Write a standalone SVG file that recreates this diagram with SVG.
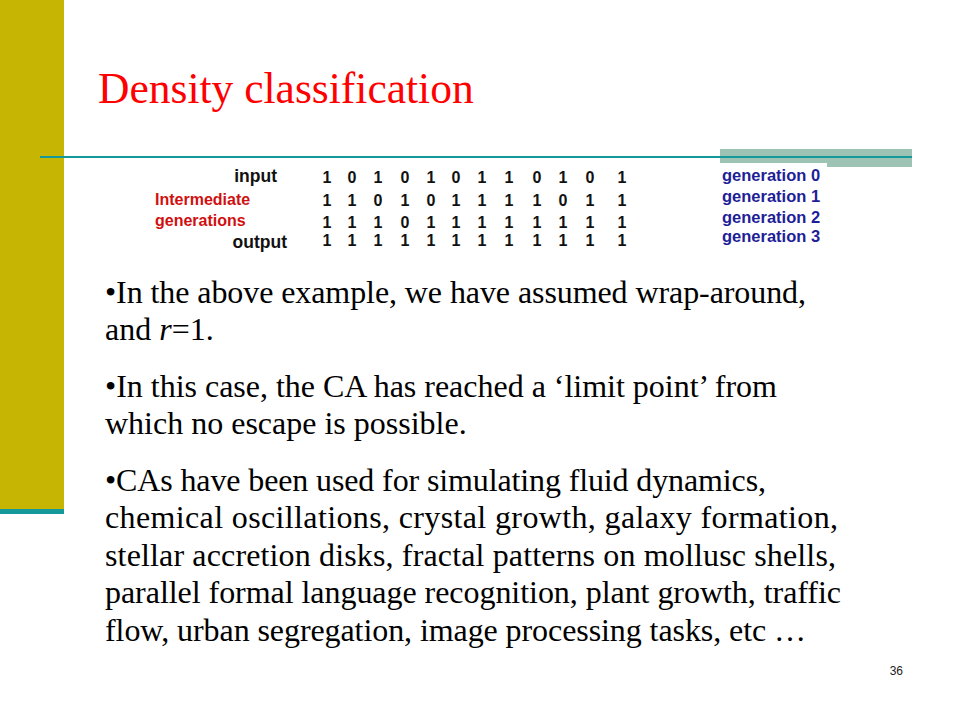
<svg xmlns="http://www.w3.org/2000/svg" width="960" height="720" viewBox="0 0 960 720">
<style>
.body{font-family:"Liberation Serif","Times New Roman",serif;font-size:32px;fill:#000}
.lbl{font-family:"Liberation Sans",Arial,sans-serif;font-weight:bold}
.dig{font-family:"Liberation Sans",Arial,sans-serif;font-weight:bold;font-size:16px;fill:#111;text-anchor:middle}
.gen{font-family:"Liberation Sans",Arial,sans-serif;font-weight:bold;font-size:16.5px;fill:#1E1E98}
</style>
<rect width="960" height="720" fill="#fff"/>
<g id="decor">
<rect x="0" y="0" width="64" height="509" fill="#C6B503"/>
<rect x="0" y="509" width="64" height="5" fill="#14999A"/>
<rect x="720" y="149" width="192" height="18" fill="#9DC3B5"/>
<rect x="40" y="156" width="872" height="2" fill="#14999A"/>
</g>
<g id="title">
<text x="98" y="103" font-family="Liberation Serif,'Times New Roman',serif" font-size="43.5" fill="#FF0000">Density classification</text>
</g>
<g id="table">
<rect x="140" y="163" width="687" height="97" fill="#fff"/>
<text class="lbl" x="277" y="182" font-size="17.5" text-anchor="end" fill="#111">input</text>
<text class="lbl" x="155" y="205" font-size="16" fill="#D01010">Intermediate</text>
<text class="lbl" x="155" y="226" font-size="16" fill="#D01010">generations</text>
<text class="lbl" x="287" y="248" font-size="17.5" text-anchor="end" fill="#111">output</text>
<g id="row0">
<text class="dig" y="183"><tspan x="327">1</tspan><tspan x="352">0</tspan><tspan x="378">1</tspan><tspan x="405">0</tspan><tspan x="431">1</tspan><tspan x="456">0</tspan><tspan x="482">1</tspan><tspan x="509">1</tspan><tspan x="537">0</tspan><tspan x="563">1</tspan><tspan x="590">0</tspan><tspan x="622">1</tspan></text>
</g>
<g id="row1">
<text class="dig" y="206"><tspan x="327">1</tspan><tspan x="352">1</tspan><tspan x="378">0</tspan><tspan x="405">1</tspan><tspan x="431">0</tspan><tspan x="456">1</tspan><tspan x="482">1</tspan><tspan x="509">1</tspan><tspan x="537">1</tspan><tspan x="563">0</tspan><tspan x="590">1</tspan><tspan x="622">1</tspan></text>
</g>
<g id="row2">
<text class="dig" y="228"><tspan x="327">1</tspan><tspan x="352">1</tspan><tspan x="378">1</tspan><tspan x="405">0</tspan><tspan x="431">1</tspan><tspan x="456">1</tspan><tspan x="482">1</tspan><tspan x="509">1</tspan><tspan x="537">1</tspan><tspan x="563">1</tspan><tspan x="590">1</tspan><tspan x="622">1</tspan></text>
</g>
<g id="row3">
<text class="dig" y="246"><tspan x="327">1</tspan><tspan x="352">1</tspan><tspan x="378">1</tspan><tspan x="405">1</tspan><tspan x="431">1</tspan><tspan x="456">1</tspan><tspan x="482">1</tspan><tspan x="509">1</tspan><tspan x="537">1</tspan><tspan x="563">1</tspan><tspan x="590">1</tspan><tspan x="622">1</tspan></text>
</g>
<text class="gen" x="722" y="181">generation 0</text>
<text class="gen" x="722" y="202">generation 1</text>
<text class="gen" x="722" y="223">generation 2</text>
<text class="gen" x="722" y="242">generation 3</text>
</g>
<g id="bullets">
<text class="body" x="105" y="303" textLength="701" lengthAdjust="spacing">•In the above example, we have assumed wrap-around,</text>
<text class="body" x="105" y="340">and <tspan font-style="italic">r</tspan>=1.</text>
<text class="body" x="105" y="397" textLength="672" lengthAdjust="spacing">•In this case, the CA has reached a ‘limit point’ from</text>
<text class="body" x="105" y="434">which no escape is possible.</text>
<text class="body" x="105" y="491" textLength="661" lengthAdjust="spacing">•CAs have been used for simulating fluid dynamics,</text>
<text class="body" x="105" y="528" textLength="733" lengthAdjust="spacing">chemical oscillations, crystal growth, galaxy formation,</text>
<text class="body" x="105" y="566" textLength="731" lengthAdjust="spacing">stellar accretion disks, fractal patterns on mollusc shells,</text>
<text class="body" x="105" y="603" textLength="736" lengthAdjust="spacing">parallel formal language recognition, plant growth, traffic</text>
<text class="body" x="105" y="641" textLength="701" lengthAdjust="spacing">flow, urban segregation, image processing tasks, etc …</text>
</g>
<g id="pagenum">
<text x="903" y="675" font-family="Liberation Sans,Arial,sans-serif" font-size="12" text-anchor="end" fill="#222">36</text>
</g>
</svg>
